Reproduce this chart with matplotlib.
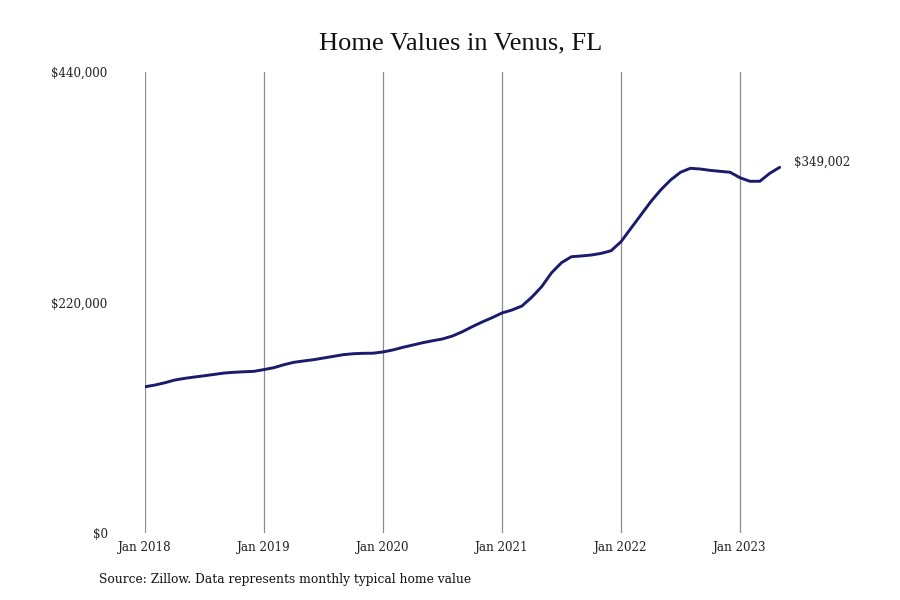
import numpy as np
import matplotlib
matplotlib.use('Agg')
import matplotlib.pyplot as plt
from matplotlib.ticker import FuncFormatter

# monthly typical home value, Jan 2018 .. May 2023
values = [
    139600, 141200, 143400, 146000, 147600, 148900, 150100, 151400, 152700, 153400, 153900, 154300,  # 2018
    156000, 157800, 160600, 162900, 164200, 165400, 167000, 168600, 170200, 171100, 171500, 171600,  # 2019
    172800, 174700, 177200, 179400, 181600, 183500, 185200, 188000, 192100, 196900, 201400, 205500,  # 2020
    210000, 212800, 216600, 225000, 235100, 248400, 258000, 263700, 264400, 265300, 266900, 269400,  # 2021
    278000, 290800, 303500, 316200, 327400, 336900, 344300, 348100, 347400, 346100, 345200, 344300,  # 2022
    339100, 335700, 335700, 343300, 349002,                                                          # 2023
]
tick_labels = ['Jan 2018', 'Jan 2019', 'Jan 2020', 'Jan 2021', 'Jan 2022', 'Jan 2023']
y_ticks = [0, 220000, 440000]

months = np.arange(len(values))

fig = plt.figure(figsize=(9, 6), dpi=100)
ax = fig.add_axes([145 / 900, 67 / 600, 714 / 900, 461 / 600])

ax.plot(months, values, color='#1b1a6b', linewidth=2.1, solid_capstyle='round')
ax.annotate('${:,}'.format(values[-1]), xy=(months[-1], values[-1]),
            xytext=(10, 3.6), textcoords='offset points', va='center', ha='left',
            fontsize=8.6, family='DejaVu Serif', color='#222222')

ax.set_xlim(0, 72)
ax.set_ylim(0, 440000)
ax.set_xticks(np.arange(0, 72, 12))
ax.set_xticklabels(tick_labels)
ax.set_yticks(y_ticks)
ax.yaxis.set_major_formatter(FuncFormatter(lambda v, p: '${:,.0f}'.format(v)))

ax.grid(axis='x', color='#8c8c8c', linewidth=0.9)
ax.set_axisbelow(True)
for s in ax.spines.values():
    s.set_visible(False)
ax.tick_params(axis='both', length=0, labelsize=8.6, colors='#222222')
ax.tick_params(axis='y', pad=27)
ax.tick_params(axis='x', pad=6)
for lab in ax.get_xticklabels() + ax.get_yticklabels():
    lab.set_family('DejaVu Serif')

fig.text(461 / 900, 0.928, 'Home Values in Venus, FL', ha='center', va='center',
         fontsize=19, family='Liberation Serif', color='#111111')
fig.text(99 / 900, 1 - 580 / 600, 'Source: Zillow. Data represents monthly typical home value',
         ha='left', va='center', fontsize=8.8, family='DejaVu Serif', color='#111111')

fig.savefig('out.png', dpi=100)
